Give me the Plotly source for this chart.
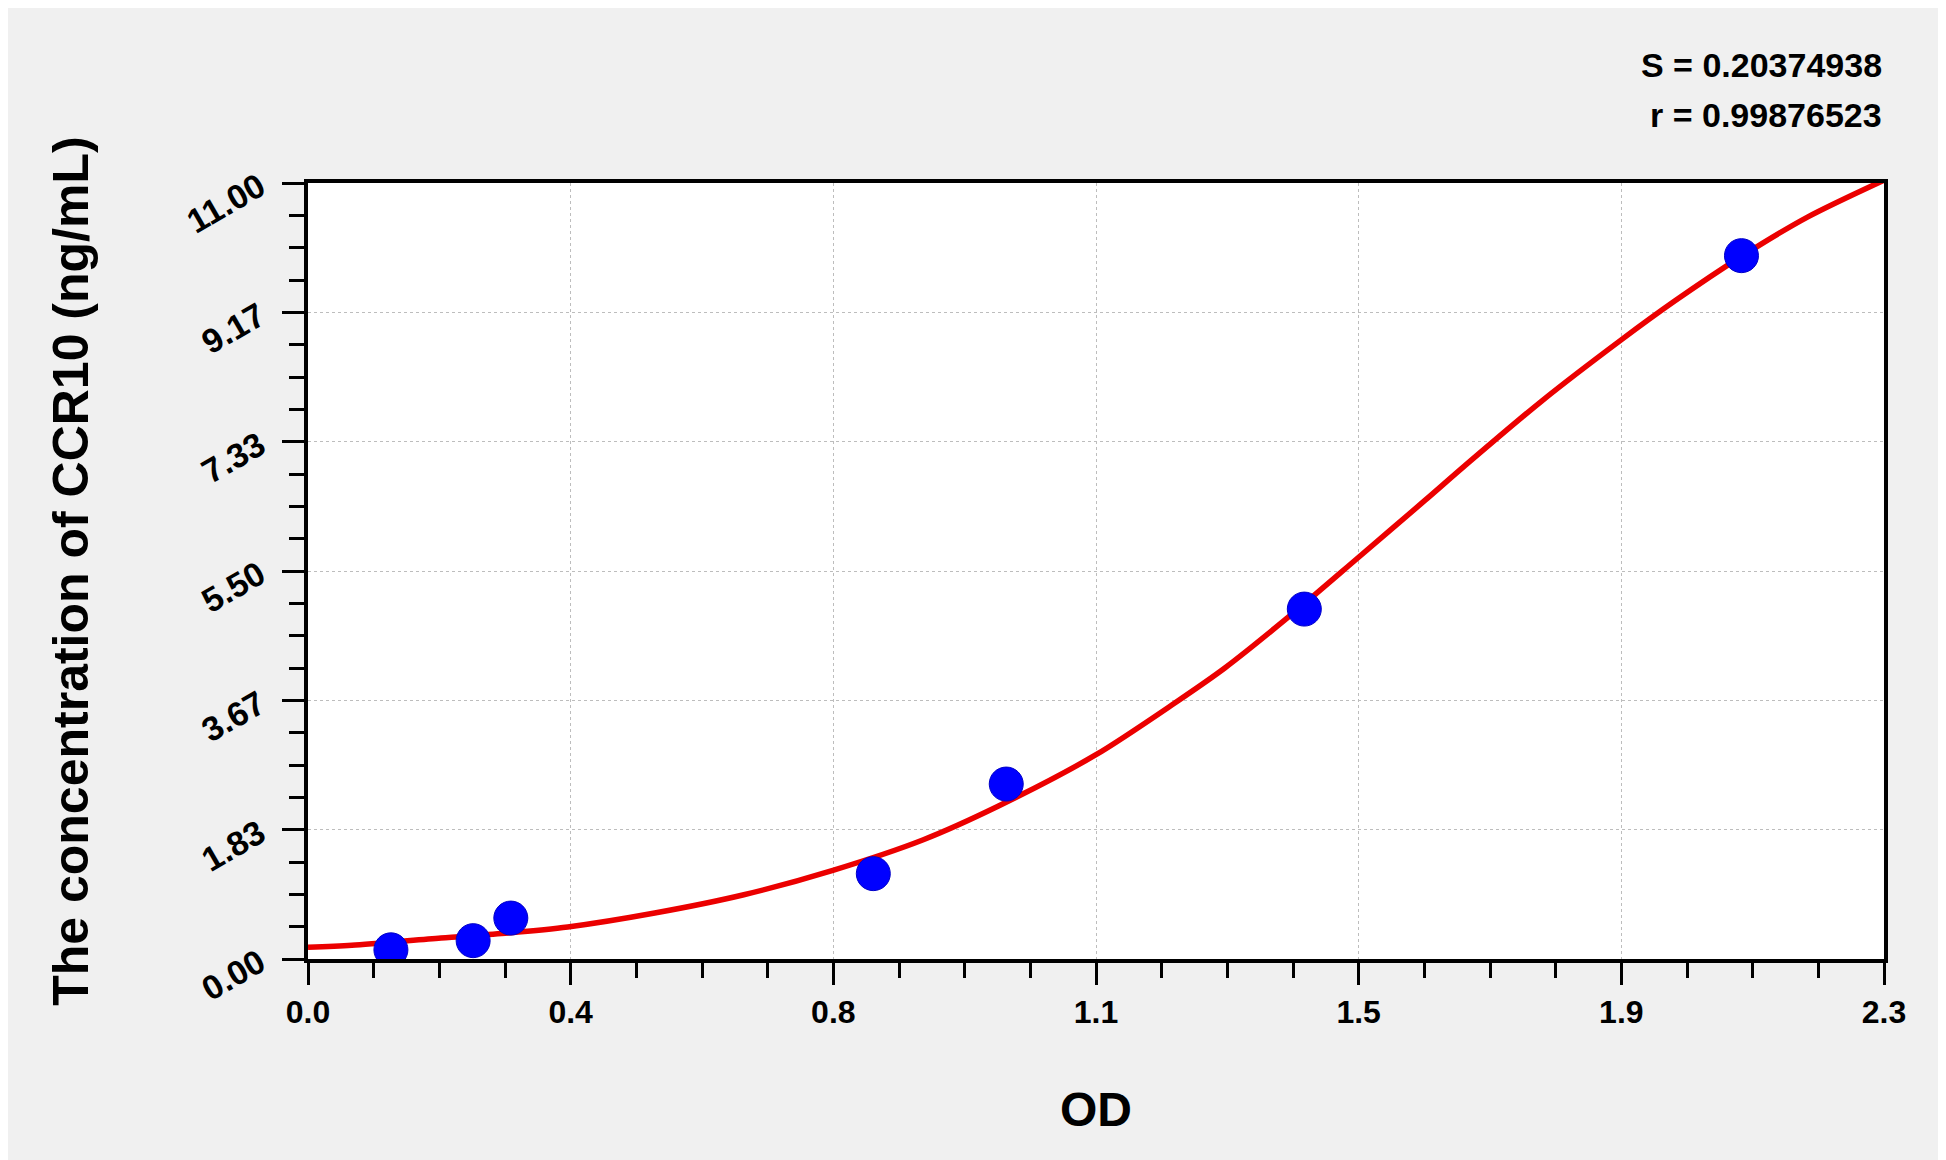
import plotly.graph_objects as go

# standard points (OD vs concentration)
std_od = [0.121, 0.241, 0.296, 0.825, 1.019, 1.454, 2.092]
std_conc = [0.13, 0.26, 0.58, 1.21, 2.48, 4.96, 9.97]

# fitted curve
curve_od = [0.0, 0.064, 0.194, 0.292, 0.379, 0.506, 0.636, 0.766, 0.898, 1.007,
            1.150, 1.265, 1.338, 1.435, 1.532, 1.630, 1.688, 1.800, 1.917, 1.995,
            2.092, 2.189, 2.300]
curve_conc = [0.166, 0.194, 0.298, 0.369, 0.454, 0.652, 0.911, 1.257, 1.691, 2.165,
              2.896, 3.629, 4.125, 4.881, 5.684, 6.500, 6.990, 7.906, 8.780, 9.330,
              9.960, 10.520, 11.04]

x_tick_labels = ["0.0", "0.4", "0.8", "1.1", "1.5", "1.9", "2.3"]
y_tick_labels = ["0.00", "1.83", "3.67", "5.50", "7.33", "9.17", "11.00"]
x_max = 2.3
y_max = 11.0

stats = ["S = 0.20374938", "r = 0.99876523"]

FONT = "Liberation Sans, Arial, sans-serif"

n = len(x_tick_labels) - 1
x_ticks = [x_max * i / n for i in range(n + 1)]
y_ticks = [y_max * i / n for i in range(n + 1)]
x_minor = [x_max * i / (n * 4) for i in range(n * 4 + 1)]
y_minor = [y_max * i / (n * 4) for i in range(n * 4 + 1)]

fig = go.Figure()

fig.add_trace(go.Scatter(
    x=curve_od, y=curve_conc, mode="lines",
    line=dict(color="rgb(235,0,0)", width=5.5, shape="spline", smoothing=0.8),
    hoverinfo="skip", showlegend=False,
))
fig.add_trace(go.Scatter(
    x=std_od, y=std_conc, mode="markers",
    marker=dict(size=34, color="#0000FF", line=dict(color="#0000C8", width=1)),
    showlegend=False,
))

axis_common = dict(
    showline=True, linecolor="black", linewidth=3.5, mirror=True,
    ticks="outside", ticklen=22, tickwidth=3, tickcolor="black",
    showgrid=True, gridcolor="#BDBDBD", griddash="dot", gridwidth=1,
    zeroline=False,
    tickmode="array",
)

fig.update_xaxes(
    **axis_common,
    range=[0, x_max],
    tickvals=x_ticks, ticktext=x_tick_labels,
    tickfont=dict(family=FONT, size=32, color="black", weight="bold"),
    minor=dict(tickmode="array", tickvals=x_minor, ticklen=15, tickwidth=3,
               tickcolor="black", ticks="outside", showgrid=False),
)
fig.update_yaxes(
    **axis_common,
    range=[0, y_max],
    tickvals=y_ticks, ticktext=y_tick_labels, tickangle=-30,
    ticklabelstandoff=16,
    tickfont=dict(family=FONT, size=34, color="black", weight="bold"),
    minor=dict(tickmode="array", tickvals=y_minor, ticklen=15, tickwidth=3,
               tickcolor="black", ticks="outside", showgrid=False),
)

fig.add_annotation(
    text="The concentration of CCR10 (ng/mL)", textangle=-90,
    xref="paper", yref="paper", x=-0.1505, y=0.5,
    xanchor="center", yanchor="middle", showarrow=False,
    font=dict(family=FONT, size=50, color="black", weight="bold"),
)
fig.add_annotation(
    text="OD", xref="paper", yref="paper", x=0.5, y=-0.1933,
    xanchor="center", yanchor="middle", showarrow=False,
    font=dict(family=FONT, size=48, color="black", weight="bold"),
)
for i, s in enumerate(stats):
    fig.add_annotation(
        text=s, xref="paper", yref="paper", x=1.0, y=1.152 - 0.064 * i,
        xanchor="right", yanchor="middle", showarrow=False,
        font=dict(family=FONT, size=34, color="black", weight="bold"),
    )

fig.update_layout(
    width=1946, height=1160,
    margin=dict(l=300, r=70, t=175, b=209),
    paper_bgcolor="#F0F0F0", plot_bgcolor="white",
)

fig.write_html("out.html")
